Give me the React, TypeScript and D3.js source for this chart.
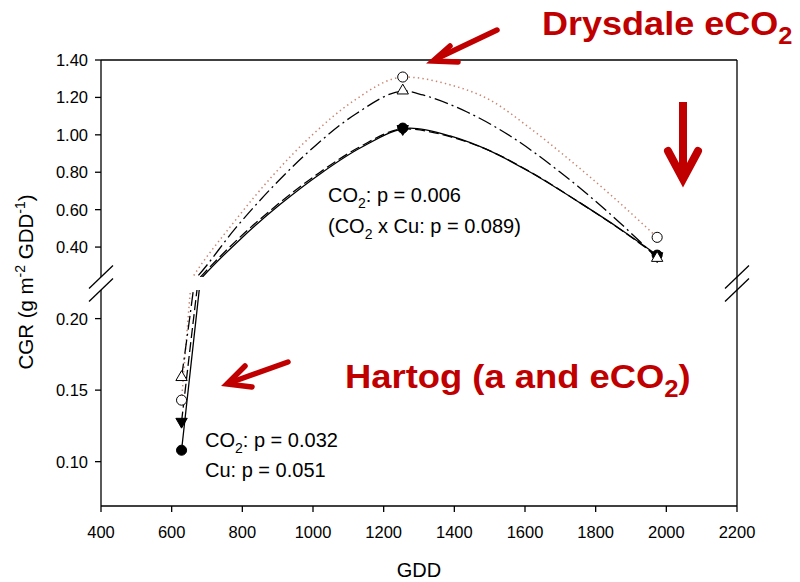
import React from 'react';
import * as d3 from 'd3';

const W = 800;
const H = 582;

// Sampling dates (growing degree days) and measured crop growth rates
const gddSampled = [628, 1254, 1974];
const cgrFilledCircle = [0.108, 1.036, 0.357];
const cgrFilledTriangle = [0.128, 1.032, 0.352];
const cgrOpenCircle = [0.143, 1.309, 0.452];
const cgrOpenTriangle = [0.159, 1.236, 0.341];

// Fitted response curves (GDD, CGR)
const fitGddSolid = [628, 682, 796, 909, 1023, 1136, 1275, 1388, 1501, 1614, 1756, 1869, 1974];
const fitCgrSolid = [0.108, 0.229, 0.445, 0.631, 0.795, 0.932, 1.036, 0.994, 0.914, 0.801, 0.636, 0.497, 0.357];
const fitGddDashed = [628, 676, 789, 902, 1016, 1129, 1260, 1388, 1501, 1614, 1756, 1869, 1974];
const fitCgrDashed = [0.128, 0.229, 0.445, 0.631, 0.795, 0.932, 1.032, 0.99, 0.914, 0.803, 0.636, 0.495, 0.352];
const fitGddDotted = [628, 656, 774, 887, 1000, 1113, 1260, 1379, 1501, 1614, 1727, 1849, 1974];
const fitCgrDotted = [0.143, 0.229, 0.528, 0.784, 1.003, 1.179, 1.309, 1.272, 1.186, 1.036, 0.865, 0.668, 0.452];
const fitGddDashDot = [628, 666, 782, 895, 1009, 1122, 1260, 1311, 1436, 1558, 1699, 1841, 1974];
const fitCgrDashDot = [0.159, 0.229, 0.504, 0.74, 0.946, 1.113, 1.234, 1.213, 1.122, 0.994, 0.801, 0.577, 0.341];

const xTicks = [400, 600, 800, 1000, 1200, 1400, 1600, 1800, 2000, 2200];
const yTicksUpper = [0.4, 0.6, 0.8, 1.0, 1.2, 1.4];
const yTicksLower = [0.1, 0.15, 0.2];

const FONT = '"Liberation Sans", Arial, Helvetica, sans-serif';
const RED = '#c00000';

export default function App() {
  const x = d3.scaleLinear().domain([400, 2200]).range([101, 737]);
  const yUp = d3.scaleLinear().domain([0.24, 1.4]).range([277, 60]);
  const yLo = d3.scaleLinear().domain([0.069, 0.22]).range([506, 290]);
  const left = 101;
  const right = 737;
  const top = 60;
  const bottom = 506;
  const breakTop = 277;
  const breakBottom = 290;

  const curve = (gs: number[], vs: number[], ys: d3.ScaleLinear<number, number>, n?: number) => {
    const g = n ? gs.slice(0, n) : gs;
    const v = n ? vs.slice(0, n) : vs;
    return (
      d3
        .line<number>()
        .x((_, i) => x(g[i]))
        .y((d) => ys(d))
        .curve(d3.curveMonotoneX)(v) || ''
    );
  };

  const lines = [
    { g: fitGddDotted, v: fitCgrDotted, stroke: '#c98470', dash: '1.4 3.2', w: 1.5 },
    { g: fitGddDashDot, v: fitCgrDashDot, stroke: '#000', dash: '14 4 2 4', w: 1.3 },
    { g: fitGddDashed, v: fitCgrDashed, stroke: '#000', dash: '10 4', w: 1.3 },
    { g: fitGddSolid, v: fitCgrSolid, stroke: '#000', dash: undefined, w: 1.3 },
  ];

  const circlePath = d3.symbol().type(d3.symbolCircle).size(80)() || '';
  const triPath = d3.symbol().type(d3.symbolTriangle).size(56)() || '';

  const yPos = (v: number) => (v >= 0.23 ? yUp(v) : yLo(v));

  const markers = [
    { vals: cgrFilledCircle, path: circlePath, fill: '#000', rot: 0 },
    { vals: cgrFilledTriangle, path: triPath, fill: '#000', rot: 180 },
    { vals: cgrOpenCircle, path: circlePath, fill: '#fff', rot: 0 },
    { vals: cgrOpenTriangle, path: triPath, fill: '#fff', rot: 0 },
  ];

  const slash = (cx: number, cy: number) => `M${cx - 12},${cy + 11.5}L${cx + 12},${cy - 11.5}`;

  return (
    <svg
      width={W}
      height={H}
      viewBox={`0 0 ${W} ${H}`}
      style={{ position: 'absolute', left: 0, top: 0, background: '#fff' }}
      fontFamily={FONT}
    >
      <rect width={W} height={H} fill="#fff" />
      <defs>
        <clipPath id="clip-upper">
          <rect x={left - 20} y={top - 20} width={right - left + 40} height={breakTop - top + 20} />
        </clipPath>
        <clipPath id="clip-lower">
          <rect x={left - 20} y={breakBottom} width={right - left + 40} height={bottom - breakBottom} />
        </clipPath>
      </defs>

      {/* fitted curves, drawn separately in each axis segment */}
      <g fill="none">
        {lines.map((l, i) => (
          <g key={i} stroke={l.stroke} strokeWidth={l.w} strokeDasharray={l.dash}>
            <path d={curve(l.g, l.v, yUp)} clipPath="url(#clip-upper)" />
            <path d={curve(l.g, l.v, yLo, 3)} clipPath="url(#clip-lower)" />
          </g>
        ))}
      </g>

      {/* measured points */}
      {markers.map((m, i) => (
        <g key={i}>
          {m.vals.map((v, j) => (
            <path
              key={j}
              d={m.path}
              transform={`translate(${x(gddSampled[j])},${yPos(v)}) rotate(${m.rot})`}
              fill={m.fill}
              stroke="#000"
              strokeWidth={1}
            />
          ))}
        </g>
      ))}

      {/* frame and axes */}
      <g stroke="#000" strokeWidth={1.3} fill="none">
        <line x1={left} x2={right} y1={top} y2={top} />
        <line x1={left} x2={right} y1={bottom} y2={bottom} />
        <line x1={right} x2={right} y1={top} y2={bottom} />
        <line x1={left} x2={left} y1={top} y2={breakTop} />
        <line x1={left} x2={left} y1={breakBottom} y2={bottom} />
        <path d={slash(left, breakTop)} />
        <path d={slash(left, breakBottom)} />
        <path d={slash(right, breakTop)} />
        <path d={slash(right, breakBottom)} />
        {xTicks.map((t) => (
          <line key={t} x1={x(t)} x2={x(t)} y1={bottom} y2={bottom + 6} />
        ))}
        {yTicksUpper.map((t) => (
          <line key={t} x1={left - 6} x2={left} y1={yUp(t)} y2={yUp(t)} />
        ))}
        {yTicksLower.map((t) => (
          <line key={t} x1={left - 6} x2={left} y1={yLo(t)} y2={yLo(t)} />
        ))}
      </g>

      <g fontSize={16.5} fill="#000">
        {xTicks.map((t) => (
          <text key={t} x={x(t)} y={538} textAnchor="middle">
            {t}
          </text>
        ))}
        {yTicksUpper.map((t) => (
          <text key={t} x={88} y={yUp(t) + 6} textAnchor="end">
            {t.toFixed(2)}
          </text>
        ))}
        {yTicksLower.map((t) => (
          <text key={t} x={88} y={yLo(t) + 6} textAnchor="end">
            {t.toFixed(2)}
          </text>
        ))}
      </g>

      {/* axis titles */}
      <text x={419} y={577} fontSize={20} textAnchor="middle">
        GDD
      </text>
      <text transform="translate(33,282) rotate(-90)" fontSize={20.5} textAnchor="middle">
        CGR (g m
        <tspan fontSize={14} dy={-8}>-2</tspan>
        <tspan dy={8}> GDD</tspan>
        <tspan fontSize={14} dy={-8}>-1</tspan>
        <tspan dy={8}>)</tspan>
      </text>

      {/* statistics */}
      <g fontSize={20} fill="#000">
        <text x={328} y={202}>
          CO<tspan fontSize={14} dy={6}>2</tspan>
          <tspan dy={-6}>: p = 0.006</tspan>
        </text>
        <text x={328} y={233}>
          (CO<tspan fontSize={14} dy={6}>2</tspan>
          <tspan dy={-6}> x Cu: p = 0.089)</tspan>
        </text>
        <text x={205} y={447}>
          CO<tspan fontSize={14} dy={6}>2</tspan>
          <tspan dy={-6}>: p = 0.032</tspan>
        </text>
        <text x={205} y={477}>Cu: p = 0.051</text>
      </g>

      {/* highlighted labels and arrows */}
      <g fill={RED} fontWeight="bold">
        <g transform="translate(542,35) scale(1.06,1)">
          <text x={0} y={0} fontSize={34}>
            Drysdale eCO<tspan fontSize={24} dy={9}>2</tspan>
          </text>
        </g>
        <g transform="translate(345,388) scale(1.07,1)">
          <text x={0} y={0} fontSize={34}>
            Hartog (a and eCO<tspan fontSize={24} dy={9}>2</tspan>
            <tspan dy={-9}>)</tspan>
          </text>
        </g>
      </g>
      <g stroke={RED} fill="none" strokeLinecap="round" strokeLinejoin="miter">
        <g strokeWidth={5.5}>
          <path d="M497,30L438,58" />
          <path d="M450,46L433,61L458,62" />
        </g>
        <g strokeWidth={5.5}>
          <path d="M288,362L232,382" />
          <path d="M245,366L227,384L252,387" />
        </g>
        <g strokeWidth={8}>
          <path d="M683,102L683,175" strokeLinecap="butt" />
          <path d="M668,151L683,179L698,151" />
        </g>
      </g>
    </svg>
  );
}
